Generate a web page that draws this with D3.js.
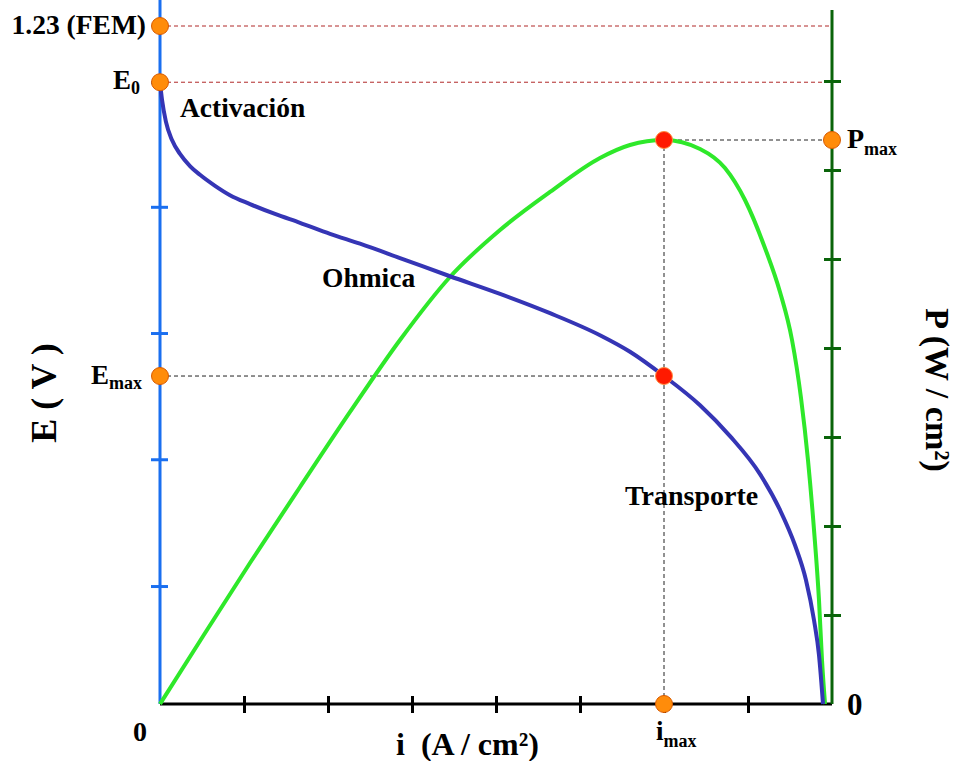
<!DOCTYPE html>
<html>
<head>
<meta charset="utf-8">
<script src="https://cdn.jsdelivr.net/npm/d3@7"></script>
<style>
  body { margin: 0; background: #fff; }
</style>
</head>
<body>
<svg id="chart" width="956" height="761"></svg>
<script>
// tick positions (unlabelled ticks)
const iTicks = [1, 2, 3, 4, 5, 6, 7];
const eTicks = [0.214, 0.444, 0.673, 0.902, 1.128];
const pTicks = [1, 2, 3, 4, 5, 6, 7];

// polarisation curve E(i)
const eCurveI = [0, 0.024, 0.071, 0.143, 0.238, 0.357, 0.476, 0.655, 0.833, 1.071, 1.369, 1.667, 2.024, 2.381,
                 2.857, 3.452, 4.048, 4.643, 5.238, 5.595, 6.0, 6.429, 6.786, 7.143, 7.381, 7.56, 7.69, 7.786, 7.845, 7.893];
const eCurveE = [1.128, 1.096, 1.056, 1.023, 0.998, 0.976, 0.96, 0.94, 0.923, 0.907, 0.889, 0.873, 0.853, 0.835,
                 0.809, 0.776, 0.744, 0.709, 0.669, 0.639, 0.595, 0.542, 0.486, 0.417, 0.352, 0.288, 0.225, 0.152, 0.089, 0];

// power curve P(i)
const pCurveI = [0, 0.476, 1.071, 1.667, 2.262, 2.857, 3.452, 4.048, 4.643, 5.238, 5.595, 6.0, 6.429, 6.726,
                 6.964, 7.202, 7.381, 7.524, 7.631, 7.714, 7.786, 7.845, 7.881, 7.917];
const pCurveP = [0, 0.708, 1.584, 2.438, 3.281, 4.09, 4.798, 5.326, 5.753, 6.135, 6.281, 6.337, 6.236, 6.022,
                 5.663, 5.124, 4.629, 4.09, 3.438, 2.742, 1.955, 1.169, 0.494, 0];

const fem = 1.23, e0 = 1.128, iMax = 6, eMax = 0.595, pMax = 6.337;

const x = d3.scaleLinear().domain([0, 8]).range([160, 832]);
const yE = d3.scaleLinear().domain([0, 1.23]).range([704, 26]);
const yP = d3.scaleLinear().domain([0, 7]).range([704, 81]);

const svg = d3.select("#chart")
    .attr("font-family", "'Liberation Serif', 'Times New Roman', 'DejaVu Serif', serif")
    .attr("font-weight", "bold");

// dashed guide lines
const guide = (x1, y1, x2, y2, color) => svg.append("line")
    .attr("x1", x1).attr("y1", y1).attr("x2", x2).attr("y2", y2)
    .attr("stroke", color).attr("stroke-width", 1).attr("stroke-dasharray", "4,3");
guide(x(0), yE(fem), x(8), yE(fem), "#b02828");
guide(x(0), yE(e0), x(8), yE(e0), "#b02828");
guide(x(0), yE(eMax), x(iMax), yE(eMax), "#222");
guide(x(iMax), yP(pMax), x(8), yP(pMax), "#222");
guide(x(iMax), yP(pMax), x(iMax), yP(0), "#222");

// axes
const gx = svg.append("g").attr("transform", "translate(0," + yE(0) + ")")
    .call(d3.axisBottom(x).tickValues(iTicks).tickSizeInner(9).tickSizeOuter(0).tickFormat(""));
gx.select(".domain").remove();
gx.selectAll(".tick line").attr("y1", -8).attr("stroke", "#000").attr("stroke-width", 3);

const gl = svg.append("g").attr("transform", "translate(" + x(0) + ",0)")
    .call(d3.axisLeft(yE).tickValues(eTicks).tickSizeInner(9).tickSizeOuter(0).tickFormat(""));
gl.select(".domain").remove();
gl.selectAll(".tick line").attr("x1", 8).attr("stroke", "#1a6ff0").attr("stroke-width", 3);

const gr = svg.append("g").attr("transform", "translate(" + x(8) + ",0)")
    .call(d3.axisRight(yP).tickValues(pTicks).tickSizeInner(9).tickSizeOuter(0).tickFormat(""));
gr.select(".domain").remove();
gr.selectAll(".tick line").attr("x1", -8).attr("stroke", "#0a640a").attr("stroke-width", 3);

svg.append("line").attr("x1", x(0)).attr("x2", x(8)).attr("y1", yE(0)).attr("y2", yE(0))
    .attr("stroke", "#000").attr("stroke-width", 3);
svg.append("line").attr("x1", x(0)).attr("x2", x(0)).attr("y1", 0).attr("y2", yE(0))
    .attr("stroke", "#1a6ff0").attr("stroke-width", 3);
svg.append("line").attr("x1", x(8)).attr("x2", x(8)).attr("y1", 10).attr("y2", yP(0))
    .attr("stroke", "#0a640a").attr("stroke-width", 3);

// curves
const eLine = d3.line().x(d => x(d[0])).y(d => yE(d[1])).curve(d3.curveMonotoneX);
const pLine = d3.line().x(d => x(d[0])).y(d => yP(d[1])).curve(d3.curveMonotoneX);

svg.append("path").datum(d3.zip(pCurveI, pCurveP)).attr("d", pLine)
    .attr("fill", "none").attr("stroke", "#2ee82a").attr("stroke-width", 4);
svg.append("path").datum(d3.zip(eCurveI, eCurveE)).attr("d", eLine)
    .attr("fill", "none").attr("stroke", "#3535b5").attr("stroke-width", 4);

// marker points
const orange = [[x(0), yE(fem)], [x(0), yE(e0)], [x(0), yE(eMax)], [x(8), yP(pMax)], [x(iMax), yE(0)]];
const red = [[x(iMax), yP(pMax)], [x(iMax), yE(eMax)]];
svg.selectAll(".dot-o").data(orange).enter().append("circle")
    .attr("cx", d => d[0]).attr("cy", d => d[1]).attr("r", 8.5)
    .attr("fill", "#ff8c0a").attr("stroke", "#d85a00").attr("stroke-width", 1);
svg.selectAll(".dot-r").data(red).enter().append("circle")
    .attr("cx", d => d[0]).attr("cy", d => d[1]).attr("r", 8.5)
    .attr("fill", "#ff1a00").attr("stroke", "#ff8c40").attr("stroke-width", 1);

// labels
const label = (tx, ty, txt, size, anchor) => svg.append("text")
    .attr("x", tx).attr("y", ty).attr("font-size", size).attr("text-anchor", anchor || "start").text(txt);

label(146, 34, "1.23 (FEM)", 27.5, "end");
const tE0 = label(140, 89, "E", 27, "end");
tE0.append("tspan").attr("font-size", 18).attr("dy", 5).text("0");
label(180, 117, "Activación", 27.5);
label(322, 287, "Ohmica", 27.5);
label(625, 505, "Transporte", 28);
const tEm = label(142, 384, "E", 27, "end");
tEm.append("tspan").attr("font-size", 18).attr("dy", 5).text("max");
const tPm = label(847, 148, "P", 28);
tPm.append("tspan").attr("font-size", 18).attr("dy", 7).text("max");
const tIm = label(656, 740, "i", 27);
tIm.append("tspan").attr("font-size", 18).attr("dy", 7).text("max");
label(133, 741, "0", 28);
label(847, 715, "0", 31);

const tX = label(396, 755, "i", 32);
tX.append("tspan").attr("dx", 16).text("(A / cm²)");

svg.append("text").attr("transform", "translate(56,393) rotate(-90)")
    .attr("text-anchor", "middle").attr("font-size", 36).text("E ( V )");
svg.append("text").attr("transform", "translate(926,390) rotate(90)")
    .attr("text-anchor", "middle").attr("font-size", 34).text("P (W / cm²)");
</script>
</body>
</html>
